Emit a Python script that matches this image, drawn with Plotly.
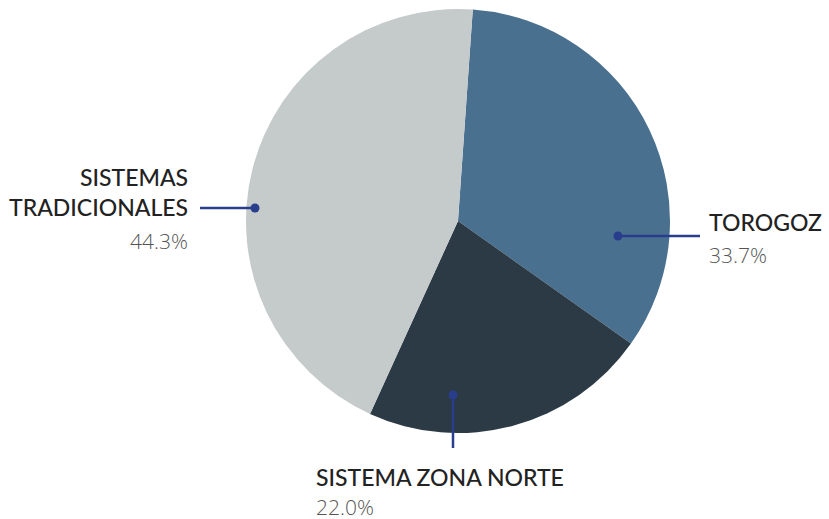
import plotly.graph_objects as go

W, H = 829, 519

categories = ["TOROGOZ", "SISTEMA ZONA NORTE", "SISTEMAS TRADICIONALES"]
values = [33.7, 22.0, 44.3]
pct_labels = ["33.7%", "22.0%", "44.3%"]
colors = ["#4a7090", "#2b3a45", "#c5cacb"]

# pie geometry (pixels)
cx, cy, r = 458, 221, 212

def px(x):
    return x / W

def py(y):
    return 1 - y / H

fig = go.Figure()
fig.add_trace(go.Pie(
    labels=categories,
    values=values,
    marker=dict(colors=colors, line=dict(width=0)),
    sort=False,
    direction="clockwise",
    rotation=4,
    textinfo="none",
    hoverinfo="label+percent",
    showlegend=False,
    domain=dict(x=[px(cx - r), px(cx + r)], y=[py(cy + r), py(cy - r)]),
))

line_color = "#283e8c"
shapes = []
def seg(x0, y0, x1, y1):
    shapes.append(dict(type="line", xref="paper", yref="paper",
                       x0=px(x0), y0=py(y0), x1=px(x1), y1=py(y1),
                       line=dict(color=line_color, width=2.5)))
def dot(x, y, rr=4.5):
    shapes.append(dict(type="circle", xref="paper", yref="paper",
                       x0=px(x - rr), y0=py(y - rr), x1=px(x + rr), y1=py(y + rr),
                       fillcolor=line_color, line=dict(width=0)))

# connectors
seg(618, 236, 700, 236); dot(618, 236)
seg(453, 395, 453, 448); dot(453, 395)
seg(200, 208, 255, 208); dot(255, 208)

lab_font = dict(family="Lato", size=23, color="#222222", weight=500)
pct_font = dict(family="Open Sans", size=21, color="#555555", weight=300)

annotations = []
def txt(s, x, y, font, xanchor):
    annotations.append(dict(text=s, xref="paper", yref="paper", x=px(x), y=py(y),
                            xanchor=xanchor, yanchor="middle", showarrow=False,
                            font=font))

# Torogoz
txt(categories[0], 707, 222, lab_font, "left")
txt(pct_labels[0], 707, 255, pct_font, "left")
# Zona Norte
txt(categories[1], 314, 477, lab_font, "left")
txt(pct_labels[1], 314, 507, pct_font, "left")
# Tradicionales
txt("SISTEMAS", 190, 177, lab_font, "right")
txt("TRADICIONALES", 190, 207, lab_font, "right")
txt(pct_labels[2], 190, 241, pct_font, "right")

fig.update_layout(
    width=W, height=H,
    margin=dict(l=0, r=0, t=0, b=0),
    paper_bgcolor="white", plot_bgcolor="white",
    shapes=shapes, annotations=annotations,
)
fig.write_html("out.html", config={"displayModeBar": False},
               post_script="document.body.style.margin='0';document.body.style.overflow='hidden';")
